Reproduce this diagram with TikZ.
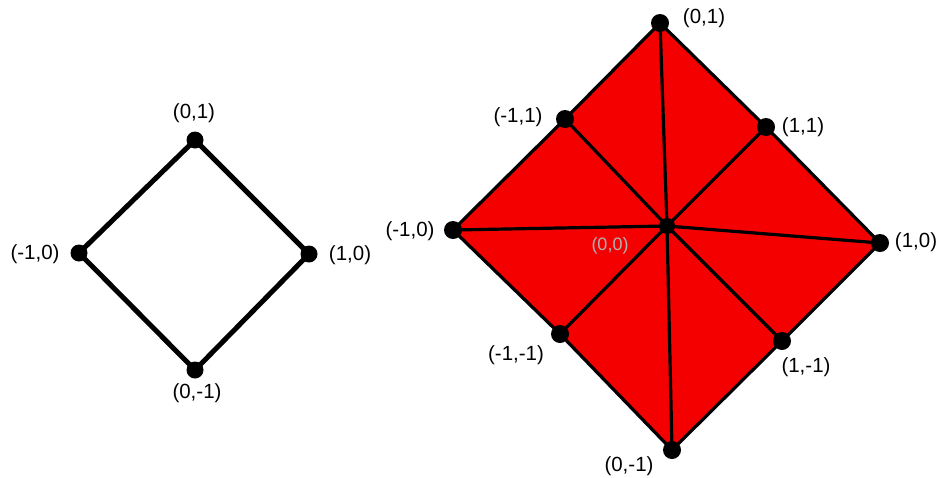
\documentclass[tikz,border=0pt]{standalone}
\usepackage{fontspec}
\setmainfont{Liberation Sans}
\definecolor{fillred}{RGB}{245,0,0}
\begin{document}
\begin{tikzpicture}[x=1pt,y=-1pt,
  dotL/.style={circle,fill=black,inner sep=0pt,minimum size=17pt},
  dotR/.style={circle,fill=black,inner sep=0pt,minimum size=18pt},
  lbl/.style={font=\fontsize{20.5}{22}\selectfont,inner sep=0pt},
  edgeL/.style={line width=5pt,line join=round},
  edgeR/.style={line width=3.2pt,line join=round}]
\useasboundingbox (0,0) rectangle (942,477);
% left diamond
\coordinate (lt) at (195,140);
\coordinate (ll) at (79,253);
\coordinate (lr) at (309,254);
\coordinate (lb) at (195,370);
\draw[edgeL] (lt) -- (lr) -- (lb) -- (ll) -- cycle;
\node[dotL] (Lt) at (lt) {};
\node[dotL] (Ll) at (ll) {};
\node[dotL] (Lr) at (lr) {};
\node[dotL] (Lb) at (lb) {};
\node[lbl] (Ltl) at (194,113) {(0,1)};
\node[lbl] (Lll) at (35,254) {(-1,0)};
\node[lbl] (Lrl) at (350,255) {(1,0)};
\node[lbl] (Lbl) at (197,393) {(0,-1)};
% right diamond
\coordinate (t) at (660,23);
\coordinate (tr) at (766,127);
\coordinate (r) at (880,243);
\coordinate (br) at (782,341);
\coordinate (b) at (672,450);
\coordinate (bl) at (560,334);
\coordinate (l) at (453,230);
\coordinate (tl) at (565,119);
\coordinate (c) at (667,226);
\fill[fillred] (t) -- (tr) -- (r) -- (br) -- (b) -- (bl) -- (l) -- (tl) -- cycle;
\foreach \p in {t,tr,r,br,b,bl,l,tl} \draw[edgeR] (c) -- (\p);
\draw[edgeR] (t) -- (tr) -- (r) -- (br) -- (b) -- (bl) -- (l) -- (tl) -- cycle;
\node[dotR] (Rt) at (t) {};
\node[dotR] (Rtr) at (tr) {};
\node[dotR] (Rr) at (r) {};
\node[dotR] (Rbr) at (br) {};
\node[dotR] (Rb) at (b) {};
\node[dotR] (Rbl) at (bl) {};
\node[dotR] (Rl) at (l) {};
\node[dotR] (Rtl) at (tl) {};
\node[circle,fill=black,inner sep=0pt,minimum size=16pt] (Rc) at (c) {};
\node[lbl] (Rtlab) at (704,18) {(0,1)};
\node[lbl] (Rtrlab) at (803,127) {(1,1)};
\node[lbl] (Rrlab) at (916,242) {(1,0)};
\node[lbl] (Rbrlab) at (806,367) {(1,-1)};
\node[lbl] (Rblab) at (629,466) {(0,-1)};
\node[lbl] (Rbllab) at (516,355) {(-1,-1)};
\node[lbl] (Rllab) at (410,231) {(-1,0)};
\node[lbl] (Rtllab) at (518,117) {(-1,1)};
\node[lbl,text=gray!60,font=\fontsize{18}{19}\selectfont] (Rclab) at (610,246) {(0,0)};
\end{tikzpicture}
\end{document}
